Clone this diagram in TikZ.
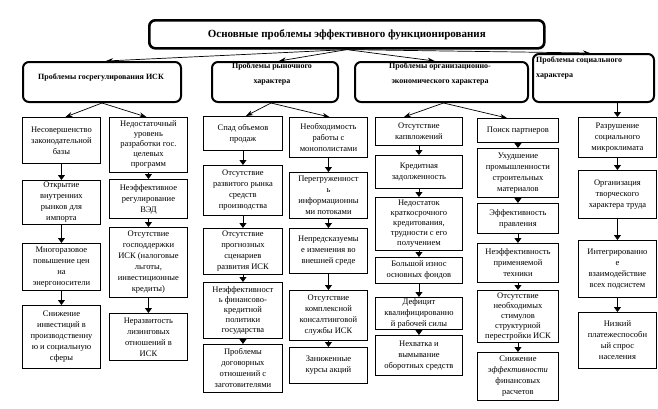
\documentclass[tikz,border=0pt]{standalone}
\usepackage{fontspec}
\setmainfont{Liberation Serif}
\usetikzlibrary{arrows.meta}
\tikzset{
  colbox/.style={draw=black, line width=0.9pt, align=center, inner sep=1pt,
    font=\fontsize{8.5}{11}\selectfont},
  tightbox/.style={font=\fontsize{8.5}{10}\selectfont},
  catbox/.style={draw=black, line width=2pt, rounded corners=6pt},
  cattext/.style={align=center, inner sep=0pt, font=\fontsize{8}{15}\selectfont\bfseries},
  titlebox/.style={draw=black, line width=2.6pt, rounded corners=6pt,
    font=\fontsize{11}{13}\selectfont\bfseries},
  arr/.style={line width=0.9pt, -{Triangle[width=7pt,length=5pt]}},
  toparr/.style={line width=0.7pt, -{Stealth[width=5pt,length=7pt]}}
}
\newcommand\mybox[7][]{%
  \pgfmathsetmacro\bw{#5-#3}\pgfmathsetmacro\bh{#6-#4}%
  \node[colbox, #1, minimum width=\bw pt, minimum height=\bh pt, anchor=north west] (#2) at (#3,#4) {#7};}
\newcommand\mycat[5]{%
  \pgfmathsetmacro\bw{#4-#2}\pgfmathsetmacro\bh{#5-#3}%
  \node[catbox, minimum width=\bw pt, minimum height=\bh pt, anchor=north west] (#1) at (#2,#3) {};}
\begin{document}
\begin{tikzpicture}[x=1pt,y=-1pt]
\useasboundingbox (0,0) rectangle (658,408);
% title
\node[titlebox, minimum width=395pt, minimum height=28pt, anchor=north west] (title) at (148,19)
  {Основные проблемы эффективного функционирования};
% categories
\mycat{cat1}{22}{61}{180}{101}
\mycat{cat2}{211}{61}{337}{101}
\mycat{cat3}{354}{61}{527}{101}
\mycat{cat4}{532}{53}{653}{101}
\node[cattext] (t1) at (101,77) {Проблемы госрегулирования ИСК};
\node[cattext, anchor=north] (t2) at (272,63) {Проблемы рыночного\\характера};
\node[cattext, anchor=north] (t3) at (440,63) {Проблемы организационно-\\экономического характера};
\node[cattext, anchor=north west, align=left] (t4) at (536,57) {Проблемы социального\\характера};
% column A
\mybox{a1}{22}{117}{100}{163}{Несовершенство\\законодательной\\базы}
\mybox{a2}{22}{180}{100}{224}{Открытие\\внутренних\\рынков для\\импорта}
\mybox{a3}{22}{243}{100}{290}{Многоразовое\\повышение цен\\на\\энергоносители}
\mybox{a4}{22}{305}{100}{368}{Снижение\\инвестиций в\\производственну\\ю и социальную\\сферы}
% column B
\mybox[tightbox]{b1}{109}{117}{187}{172}{Недостаточный\\уровень\\разработки гос.\\целевых\\программ}
\mybox{b2}{109}{179}{187}{218}{Неэффективное\\регулирование\\ВЭД}
\mybox{b3}{109}{227}{187}{297}{Отсутствие\\господдержки\\ИСК (налоговые\\льготы,\\инвестиционные\\кредиты)}
\mybox{b4}{109}{313}{187}{360}{Неразвитость\\лизинговых\\отношений в\\ИСК}
% column C
\mybox{c1}{203}{116}{282}{150}{Спад объемов\\продаж}
\mybox{c2}{203}{165}{282}{215}{Отсутствие\\развитого рынка\\средств\\производства}
\mybox{c3}{203}{228}{282}{274}{Отсутствие\\прогнозных\\сценариев\\развития ИСК}
\mybox[tightbox]{c4}{203}{282}{282}{338}{Неэффективност\\ь финансово-\\кредитной\\политики\\государства}
\mybox{c5}{203}{344}{282}{392}{Проблемы\\договорных\\отношений с\\заготовителями}
% column D
\mybox{d1}{289}{117}{367}{157}{Необходимость\\работы с\\монополистами}
\mybox{d2}{289}{172}{367}{218}{Перегруженност\\ь\\информационны\\ми потоками}
\mybox{d3}{289}{228}{367}{273}{Непредсказуемы\\е изменения во\\внешней среде}
\mybox{d4}{289}{290}{367}{340}{Отсутствие\\комплексной\\консалтинговой\\службы ИСК}
\mybox{d5}{289}{347}{367}{383}{Заниженные\\курсы акций}
% column E
\mybox{e1}{375}{117}{462}{145}{Отсутствие\\капвложений}
\mybox{e2}{375}{155}{462}{188}{Кредитная\\задолженность}
\mybox[tightbox]{e3}{375}{197}{462}{250}{Недостаток\\краткосрочного\\кредитования,\\трудности с его\\получением}
\mybox{e4}{375}{257}{462}{283}{Большой износ\\основных фондов}
\mybox{e5}{375}{297}{462}{327}{Дефицит\\квалифицированно\\й рабочей силы}
\mybox{e6}{375}{335}{462}{375}{Нехватка и\\вымывание\\оборотных средств}
% column F
\mybox{f1}{477}{118}{558}{142}{Поиск партнеров}
\mybox{f2}{477}{148}{558}{197}{Ухудшение\\промышленности\\строительных\\материалов}
\mybox{f3}{477}{203}{558}{233}{Эффективность\\правления}
\mybox{f4}{477}{243}{558}{282}{Неэффективность\\применяемой\\техники}
\mybox[tightbox]{f5}{477}{290}{558}{342}{Отсутствие\\необходимых\\стимулов\\структурной\\перестройки ИСК}
\mybox{f6}{477}{352}{558}{400}{Снижение\\\textit{эффективности}\\финансовых\\расчетов}
% column G
\mybox{g1}{578}{117}{656}{157}{Разрушение\\социального\\микроклимата}
\mybox{g2}{578}{170}{656}{218}{Организация\\творческого\\характера труда}
\mybox{g3}{578}{240}{656}{297}{Интегрированно\\е\\взаимодействие\\всех подсистем}
\mybox{g4}{578}{312}{656}{368}{Низкий\\платежеспособн\\ый спрос\\населения}
% top connectors
\draw[toparr] (title.south) -- ([xshift=4pt]cat1.north);
\draw[toparr] (title.south) -- ([xshift=4pt]cat2.north);
\draw[toparr] (title.south) -- ([xshift=-7pt]cat3.north);
\draw[toparr] (title.south) -- ([xshift=58pt]cat4.north west);
% category to columns
\draw[toparr] (cat1.south) -- ([xshift=4pt]a1.north);
\draw[toparr] (cat1.south) -- ([xshift=-2pt]b1.north);
\draw[toparr] ([xshift=-4pt]cat2.south) -- ([xshift=3pt]c1.north);
\draw[toparr] ([xshift=-4pt]cat2.south) -- ([xshift=1pt]d1.north);
\draw[toparr] ([xshift=2pt]cat3.south) -- ([xshift=-15pt]e1.north);
\draw[toparr] ([xshift=2pt]cat3.south) -- ([xshift=-11pt]f1.north);
\draw[arr] (cat4.south -| g1.north) -- (g1.north);
% column arrows
\foreach \p/\q in {a1/a2,a2/a3,a3/a4,b1/b2,b2/b3,b3/b4,c1/c2,c2/c3,c3/c4,c4/c5,
  d1/d2,d2/d3,d3/d4,d4/d5,e1/e2,e2/e3,e3/e4,e4/e5,e5/e6,f1/f2,f2/f3,f3/f4,f4/f5,f5/f6,
  g1/g2,g2/g3,g3/g4}
  \draw[arr] (\p.south) -- (\q.north);
\end{tikzpicture}
\end{document}
